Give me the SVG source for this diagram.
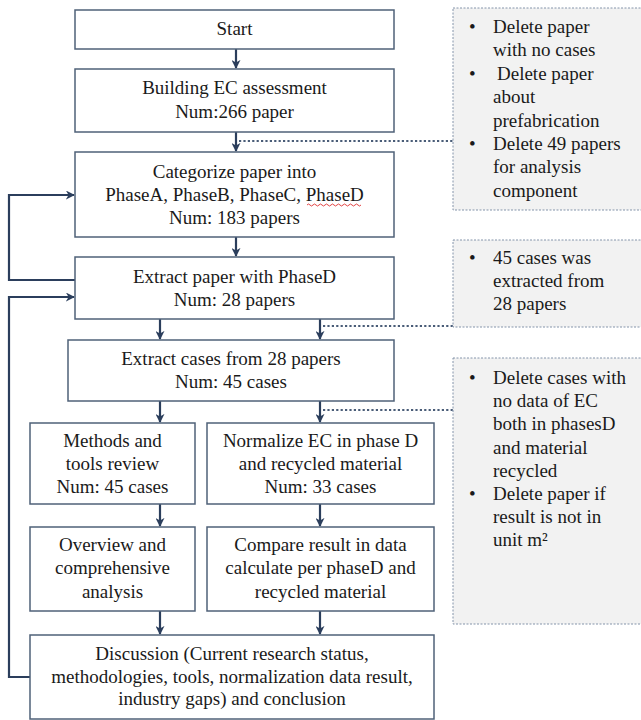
<svg xmlns="http://www.w3.org/2000/svg" width="641" height="720" viewBox="0 0 641 720">
<defs>
<marker id="ah" viewBox="0 0 10 10" refX="9" refY="5" markerWidth="9" markerHeight="9" markerUnits="userSpaceOnUse" orient="auto">
<path d="M0,0 L10,5 L0,10 L3,5 Z" fill="#2b3e5c"/>
</marker>
<style>
.box{fill:#ffffff;stroke:#4f6178;stroke-width:1.5}
.note{fill:#f2f2f2;stroke:#8494aa;stroke-width:1;stroke-dasharray:2,1.5}
.t{font-family:'Liberation Serif','DejaVu Serif',serif;font-size:19px;fill:#1a1a1a}
.c{text-anchor:middle}
.ln{fill:none;stroke:#2b3e5c;stroke-width:2.2}
.arr{fill:none;stroke:#2b3e5c;stroke-width:2.2;marker-end:url(#ah)}
.dot{fill:none;stroke:#4a5d78;stroke-width:2;stroke-dasharray:2.2,2.2}
</style>
</defs>
<rect width="641" height="720" fill="#ffffff"/>

<g id="connectors">
<line class="arr" x1="236" y1="49" x2="236" y2="68"/>
<line class="arr" x1="236" y1="132" x2="236" y2="151"/>
<line class="arr" x1="236" y1="237" x2="236" y2="256"/>
<line class="arr" x1="160" y1="319" x2="160" y2="339"/>
<line class="arr" x1="320" y1="319" x2="320" y2="339"/>
<line class="arr" x1="160" y1="401" x2="160" y2="422"/>
<line class="arr" x1="320" y1="401" x2="320" y2="422"/>
<line class="arr" x1="160" y1="504" x2="160" y2="526"/>
<line class="arr" x1="320" y1="504" x2="320" y2="526"/>
<line class="arr" x1="160" y1="611" x2="160" y2="634"/>
<line class="arr" x1="320" y1="611" x2="320" y2="634"/>
<path class="arr" d="M75,280 H9 V195 H74"/>
<path class="arr" d="M30,677 H9 V297 H74"/>
<line class="dot" x1="239" y1="141" x2="453" y2="141"/>
<line class="dot" x1="323" y1="326" x2="453" y2="326"/>
<line class="dot" x1="323" y1="410" x2="453" y2="410"/>
</g>

<g id="start">
<rect class="box" x="75" y="10" width="319" height="39"/>
<text class="t c" font-family="Liberation Serif, serif" x="234.5" y="35">Start</text>
</g>
<g id="building">
<rect class="box" x="75" y="69" width="319" height="63"/>
<text class="t c" x="234.5" y="94">Building EC assessment</text>
<text class="t c" x="234.5" y="118">Num:266 paper</text>
</g>
<g id="categorize">
<rect class="box" x="75" y="152" width="319" height="85"/>
<text class="t c" x="234.5" y="178">Categorize paper into</text>
<text class="t c" x="234.5" y="201">PhaseA, PhaseB, PhaseC, PhaseD</text>
<path d="M307,205 q1.5,-2 3,0 t3,0 t3,0 t3,0 t3,0 t3,0 t3,0 t3,0 t3,0 t3,0 t3,0 t3,0 t3,0 t3,0 t3,0 t3,0 t3,0 t3,0" fill="none" stroke="#e03030" stroke-width="0.9"/>
<text class="t c" x="234.5" y="224">Num: 183 papers</text>
</g>
<g id="extract-paper">
<rect class="box" x="75" y="257" width="319" height="62"/>
<text class="t c" x="234.5" y="283">Extract paper with PhaseD</text>
<text class="t c" x="234.5" y="306">Num: 28 papers</text>
</g>
<g id="extract-cases">
<rect class="box" x="68" y="340" width="326" height="61"/>
<text class="t c" x="231" y="365">Extract cases from 28 papers</text>
<text class="t c" x="231" y="388">Num: 45 cases</text>
</g>
<g id="methods">
<rect class="box" x="30" y="423" width="165" height="81"/>
<text class="t c" x="112.5" y="447">Methods and</text>
<text class="t c" x="112.5" y="470">tools review</text>
<text class="t c" x="112.5" y="493">Num: 45 cases</text>
</g>
<g id="normalize">
<rect class="box" x="207" y="423" width="227" height="81"/>
<text class="t c" x="320.5" y="447">Normalize EC in phase D</text>
<text class="t c" x="320.5" y="470">and recycled material</text>
<text class="t c" x="320.5" y="493">Num: 33 cases</text>
</g>
<g id="overview">
<rect class="box" x="30" y="527" width="165" height="84"/>
<text class="t c" x="112.5" y="551">Overview and</text>
<text class="t c" x="112.5" y="574">comprehensive</text>
<text class="t c" x="112.5" y="598">analysis</text>
</g>
<g id="compare">
<rect class="box" x="207" y="527" width="227" height="84"/>
<text class="t c" x="320.5" y="551">Compare result in data</text>
<text class="t c" x="320.5" y="574">calculate per phaseD and</text>
<text class="t c" x="320.5" y="598">recycled material</text>
</g>
<g id="discussion">
<rect class="box" x="30" y="635" width="404" height="84"/>
<text class="t c" x="232" y="660">Discussion (Current research status,</text>
<text class="t c" x="232" y="683">methodologies, tools, normalization data result,</text>
<text class="t c" x="232" y="705">industry gaps)  and conclusion</text>
</g>

<g id="note-1">
<rect class="note" x="453" y="8" width="195" height="202"/>
<text class="t" x="469" y="33">•</text>
<text class="t" x="493" y="33">Delete paper</text>
<text class="t" x="493" y="56">with no cases</text>
<text class="t" x="469" y="80">•</text>
<text class="t" x="497" y="80">Delete paper</text>
<text class="t" x="493" y="103">about</text>
<text class="t" x="493" y="127">prefabrication</text>
<text class="t" x="469" y="150">•</text>
<text class="t" x="493" y="150">Delete 49 papers</text>
<text class="t" x="493" y="173">for analysis</text>
<text class="t" x="493" y="197">component</text>
</g>
<g id="note-2">
<rect class="note" x="453" y="240" width="195" height="87"/>
<text class="t" x="469" y="264">•</text>
<text class="t" x="493" y="264">45 cases was</text>
<text class="t" x="493" y="287">extracted from</text>
<text class="t" x="493" y="310">28 papers</text>
</g>
<g id="note-3">
<rect class="note" x="453" y="358" width="195" height="266"/>
<text class="t" x="469" y="384">•</text>
<text class="t" x="493" y="384">Delete cases with</text>
<text class="t" x="493" y="407">no data of EC</text>
<text class="t" x="493" y="430">both in phasesD</text>
<text class="t" x="493" y="454">and material</text>
<text class="t" x="493" y="477">recycled</text>
<text class="t" x="469" y="500">•</text>
<text class="t" x="493" y="500">Delete paper if</text>
<text class="t" x="493" y="523">result is not in</text>
<text class="t" x="493" y="546">unit m²</text>
</g>
</svg>
